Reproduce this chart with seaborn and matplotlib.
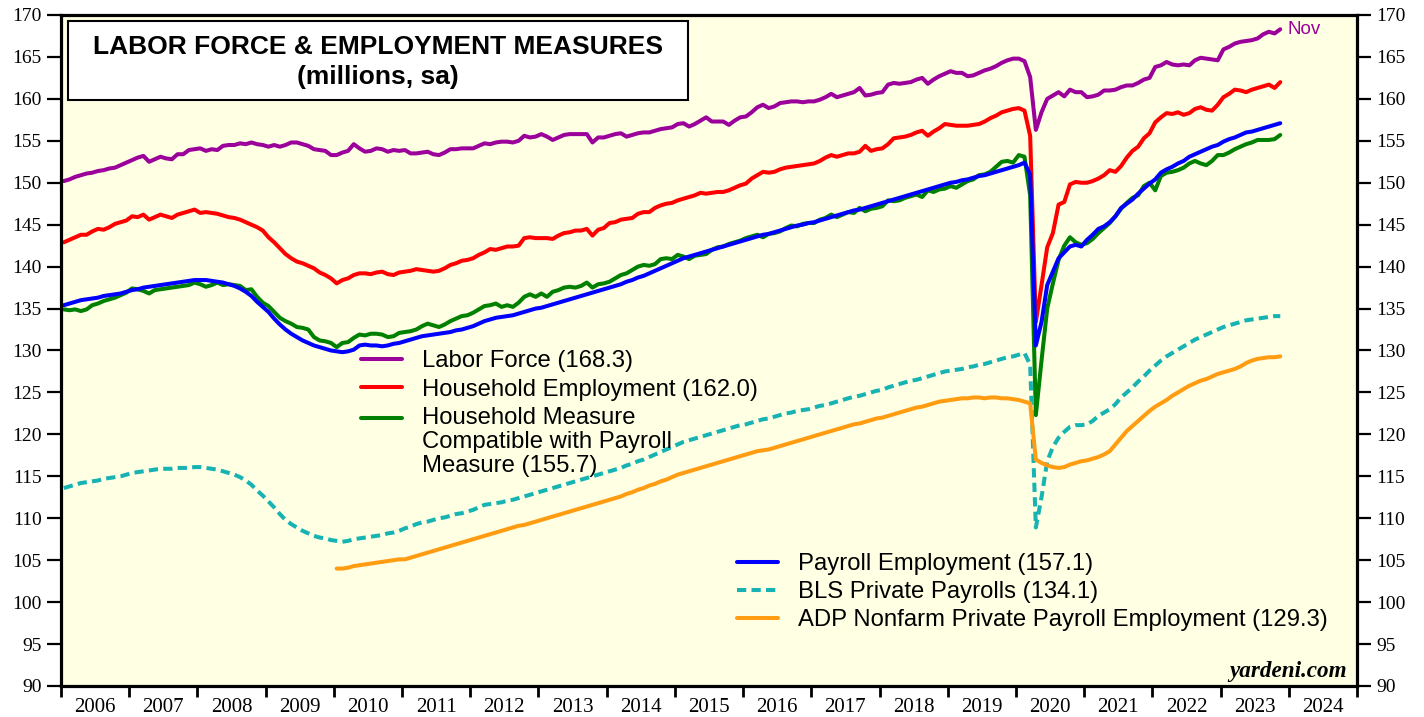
import numpy as np
import pandas as pd
import matplotlib
matplotlib.use("Agg")
import matplotlib.pyplot as plt
from matplotlib.patches import Rectangle
from matplotlib.legend_handler import HandlerLine2D
from matplotlib.lines import Line2D
import seaborn as sns

# ---------------- data (monthly, millions, sa) ----------------
START_YEAR = 2006          # household / payroll / BLS series start Jan 2006
ADP_START_YEAR = 2010      # ADP series starts Jan 2010

labor_force = [
    150.2, 150.4, 150.7, 150.9, 151.1, 151.2, 151.4, 151.5, 151.7, 151.8, 152.1, 152.4,  # 2006
    152.7, 153.0, 153.2, 152.5, 152.8, 153.1, 152.9, 152.8, 153.4, 153.4, 153.9, 154.0,  # 2007
    154.1, 153.8, 154.0, 153.9, 154.4, 154.5, 154.5, 154.7, 154.6, 154.8, 154.6, 154.5,  # 2008
    154.3, 154.5, 154.3, 154.5, 154.8, 154.8, 154.6, 154.4, 154.0, 153.9, 153.8, 153.3,  # 2009
    153.3, 153.6, 153.8, 154.6, 154.1, 153.7, 153.8, 154.1, 154.0, 153.7, 153.9, 153.8,  # 2010
    153.9, 153.5, 153.5, 153.6, 153.7, 153.4, 153.3, 153.6, 154.0, 154.0, 154.1, 154.1,  # 2011
    154.1, 154.4, 154.7, 154.6, 154.8, 154.9, 154.9, 154.8, 155.0, 155.6, 155.4, 155.5,  # 2012
    155.8, 155.5, 155.1, 155.4, 155.7, 155.8, 155.8, 155.8, 155.8, 154.8, 155.4, 155.4,  # 2013
    155.6, 155.8, 155.9, 155.5, 155.7, 155.9, 156.0, 156.0, 156.2, 156.4, 156.5, 156.6,  # 2014
    157.0, 157.1, 156.7, 157.0, 157.4, 157.8, 157.3, 157.3, 157.3, 156.9, 157.4, 157.8,  # 2015
    157.9, 158.4, 159.0, 159.3, 158.9, 159.1, 159.5, 159.6, 159.7, 159.7, 159.6, 159.7,  # 2016
    159.7, 159.9, 160.2, 160.6, 160.2, 160.4, 160.6, 160.8, 161.3, 160.4, 160.5, 160.7,  # 2017
    160.8, 161.7, 161.9, 161.8, 161.9, 162.0, 162.3, 162.5, 161.8, 162.3, 162.7, 163.0,  # 2018
    163.3, 163.1, 163.1, 162.7, 162.8, 163.1, 163.4, 163.6, 163.9, 164.3, 164.6, 164.8,  # 2019
    164.8, 164.5, 162.6, 156.3, 158.4, 160.0, 160.4, 160.8, 160.3, 161.1, 160.8, 160.8,  # 2020
    160.2, 160.3, 160.5, 161.0, 161.0, 161.1, 161.4, 161.6, 161.6, 161.9, 162.3, 162.5,  # 2021
    163.8, 164.0, 164.4, 164.1, 164.0, 164.1, 164.0, 164.6, 164.9, 164.8, 164.7, 164.6,  # 2022
    165.9, 166.2, 166.6, 166.8, 166.9, 167.0, 167.2, 167.7, 168.0, 167.8, 168.3,         # 2023
]

household_emp = [
    142.9, 143.2, 143.5, 143.8, 143.8, 144.2, 144.5, 144.4, 144.7, 145.1, 145.3, 145.5,
    146.0, 145.9, 146.2, 145.6, 145.9, 146.2, 146.0, 145.8, 146.2, 146.4, 146.6, 146.8,
    146.4, 146.5, 146.4, 146.3, 146.1, 145.9, 145.8, 145.6, 145.3, 145.0, 144.7, 144.3,
    143.5, 142.9, 142.2, 141.5, 141.0, 140.6, 140.4, 140.1, 139.8, 139.3, 139.0, 138.6,
    138.0, 138.4, 138.6, 139.0, 139.2, 139.2, 139.1, 139.3, 139.4, 139.1, 139.0, 139.3,
    139.4, 139.5, 139.7, 139.6, 139.5, 139.4, 139.5, 139.8, 140.2, 140.4, 140.7, 140.8,
    141.0, 141.4, 141.7, 142.1, 142.0, 142.2, 142.4, 142.4, 142.5, 143.4, 143.5, 143.4,
    143.4, 143.4, 143.3, 143.7, 144.0, 144.1, 144.3, 144.3, 144.5, 143.7, 144.4, 144.6,
    145.2, 145.3, 145.6, 145.7, 145.8, 146.3, 146.5, 146.5, 147.0, 147.3, 147.5, 147.6,
    147.9, 148.1, 148.3, 148.5, 148.8, 148.7, 148.8, 148.9, 148.9, 149.1, 149.4, 149.7,
    149.9, 150.5, 150.9, 151.3, 151.2, 151.3, 151.6, 151.8, 151.9, 152.0, 152.1, 152.2,
    152.3, 152.6, 153.0, 153.3, 153.1, 153.3, 153.5, 153.5, 153.7, 154.4, 153.8, 154.0,
    154.1, 154.6, 155.3, 155.4, 155.5, 155.7, 156.0, 156.2, 155.6, 156.1, 156.5, 157.0,
    156.9, 156.8, 156.8, 156.8, 156.9, 157.0, 157.3, 157.7, 158.0, 158.4, 158.6, 158.8,
    158.9, 158.6, 155.6, 133.4, 137.8, 142.3, 144.0, 147.4, 147.7, 149.8, 150.1, 150.0,
    150.0, 150.2, 150.5, 150.9, 151.5, 151.3, 152.0, 153.0, 153.8, 154.3, 155.3, 155.9,
    157.2, 157.8, 158.3, 158.2, 158.4, 158.1, 158.3, 158.8, 159.0, 158.7, 158.6, 159.3,
    160.2, 160.6, 161.1, 161.0, 160.8, 161.1, 161.3, 161.5, 161.7, 161.3, 162.0,
]

household_adj = [
    134.9, 134.8, 134.9, 134.7, 134.9, 135.4, 135.6, 135.9, 136.1, 136.3, 136.6, 136.9,
    137.4, 137.3, 137.1, 136.8, 137.2, 137.3, 137.4, 137.5, 137.6, 137.7, 137.8, 138.1,
    137.9, 137.6, 137.8, 138.1, 137.8, 137.9, 137.8, 137.7, 137.2, 137.3, 136.4, 135.7,
    135.3, 134.6, 133.9, 133.5, 133.2, 132.8, 132.7, 132.5, 131.6, 131.2, 131.1, 130.9,
    130.4, 130.9, 131.0, 131.5, 131.9, 131.8, 132.0, 132.0, 131.9, 131.6, 131.7, 132.1,
    132.2, 132.3, 132.5, 132.9, 133.2, 133.0, 132.8, 133.1, 133.5, 133.8, 134.1, 134.2,
    134.5, 134.9, 135.3, 135.4, 135.6, 135.2, 135.4, 135.2, 135.7, 136.4, 136.7, 136.4,
    136.8, 136.4, 137.0, 137.2, 137.5, 137.6, 137.5, 137.7, 138.1, 137.5, 137.9, 138.0,
    138.2, 138.6, 139.0, 139.2, 139.6, 140.0, 140.2, 140.1, 140.3, 140.9, 141.0, 140.9,
    141.4, 141.2, 140.9, 141.3, 141.4, 141.5, 142.0, 142.3, 142.4, 142.7, 142.9, 143.1,
    143.4, 143.6, 143.8, 143.5, 143.9, 144.0, 144.2, 144.6, 144.9, 144.8, 145.1, 145.2,
    145.2, 145.6, 145.8, 146.2, 145.9, 146.2, 146.5, 146.4, 147.0, 146.6, 146.9, 147.0,
    147.2, 147.9, 147.8, 147.9, 148.2, 148.4, 148.6, 148.3, 149.1, 148.9, 149.2, 149.3,
    149.6, 149.4, 149.8, 150.2, 150.4, 150.9, 151.0, 151.3, 151.9, 152.5, 152.6, 152.4,
    153.3, 153.1, 148.5, 122.3, 128.8, 135.0, 138.0, 140.8, 142.5, 143.5, 142.9, 142.6,
    142.8, 143.3, 144.0, 144.6, 145.2, 146.0, 146.9, 147.6, 148.2, 148.5, 149.6, 150.0,
    149.1, 150.8, 151.2, 151.3, 151.5, 151.8, 152.3, 152.6, 152.3, 152.1, 152.6, 153.3,
    153.3, 153.6, 154.0, 154.3, 154.6, 154.8, 155.1, 155.1, 155.1, 155.2, 155.7,
]

payroll_emp = [
    135.4, 135.6, 135.8, 136.0, 136.1, 136.2, 136.3, 136.5, 136.6, 136.7, 136.8, 137.0,
    137.2, 137.3, 137.5, 137.6, 137.7, 137.8, 137.9, 138.0, 138.1, 138.2, 138.3, 138.4,
    138.4, 138.4, 138.3, 138.2, 138.1, 137.9, 137.7, 137.4, 137.0, 136.5, 135.8, 135.2,
    134.6, 133.8, 133.1, 132.5, 132.0, 131.6, 131.2, 130.9, 130.6, 130.4, 130.2, 130.0,
    129.9, 129.8, 129.9, 130.1, 130.6, 130.7, 130.6, 130.6, 130.5, 130.6, 130.8, 130.9,
    131.1, 131.3, 131.5, 131.7, 131.8, 131.9, 132.0, 132.1, 132.2, 132.4, 132.5, 132.7,
    132.9, 133.2, 133.5, 133.7, 133.9, 134.0, 134.1, 134.2, 134.4, 134.6, 134.8, 135.0,
    135.1, 135.3, 135.5, 135.7, 135.9, 136.1, 136.3, 136.5, 136.7, 136.9, 137.1, 137.3,
    137.5, 137.7, 137.9, 138.2, 138.4, 138.7, 138.9, 139.2, 139.5, 139.8, 140.1, 140.4,
    140.7, 141.0, 141.2, 141.4, 141.6, 141.8, 142.0, 142.2, 142.4, 142.6, 142.8, 143.0,
    143.2, 143.4, 143.6, 143.8, 143.9, 144.1, 144.3, 144.5, 144.7, 144.9, 145.0, 145.2,
    145.3, 145.5, 145.7, 145.9, 146.1, 146.3, 146.5, 146.7, 146.8, 147.0, 147.2, 147.4,
    147.6, 147.8, 148.0, 148.2, 148.4, 148.6, 148.8, 149.0, 149.2, 149.4, 149.6, 149.8,
    150.0, 150.1, 150.3, 150.4, 150.6, 150.8, 150.9, 151.1, 151.3, 151.5, 151.7, 151.9,
    152.1, 152.4, 151.0, 130.6, 133.4, 137.8, 139.4, 141.0, 141.7, 142.4, 142.6, 142.4,
    143.2, 143.8, 144.5, 144.8, 145.3, 146.0, 147.0, 147.5, 148.0, 148.7, 149.3, 149.9,
    150.4, 151.2, 151.6, 151.9, 152.3, 152.6, 153.1, 153.4, 153.7, 154.0, 154.3, 154.5,
    154.9, 155.2, 155.4, 155.7, 156.0, 156.1, 156.3, 156.5, 156.7, 156.9, 157.1,
]

bls_private = [
    113.6, 113.8, 114.0, 114.2, 114.3, 114.4, 114.5, 114.7, 114.8, 114.9, 115.0, 115.2,
    115.4, 115.5, 115.6, 115.7, 115.8, 115.9, 115.9, 115.9, 116.0, 116.0, 116.0, 116.1,
    116.1, 116.0, 115.9, 115.8, 115.6, 115.4, 115.2, 114.9, 114.5, 114.0, 113.3, 112.7,
    112.0, 111.3, 110.5, 109.8, 109.3, 108.9, 108.5, 108.2, 107.9, 107.7, 107.6, 107.4,
    107.3, 107.2, 107.3, 107.5, 107.6, 107.7, 107.8, 107.9, 108.0, 108.2, 108.3, 108.5,
    108.8, 109.0, 109.3, 109.5, 109.6, 109.8, 110.0, 110.1, 110.3, 110.5, 110.6, 110.8,
    111.0, 111.3, 111.6, 111.7, 111.8, 111.9, 112.1, 112.2, 112.4, 112.6, 112.8, 113.0,
    113.2, 113.4, 113.6, 113.8, 114.0, 114.2, 114.4, 114.6, 114.8, 115.0, 115.2, 115.4,
    115.6, 115.8, 116.0, 116.3, 116.5, 116.8, 117.0, 117.3, 117.6, 117.9, 118.2, 118.5,
    118.8, 119.1, 119.3, 119.5, 119.7, 119.9, 120.1, 120.3, 120.5, 120.7, 120.9, 121.1,
    121.2, 121.4, 121.6, 121.8, 121.9, 122.1, 122.3, 122.5, 122.6, 122.8, 122.9, 123.0,
    123.2, 123.4, 123.5, 123.7, 123.9, 124.1, 124.3, 124.5, 124.6, 124.8, 125.0, 125.2,
    125.3, 125.6, 125.8, 126.0, 126.2, 126.4, 126.5, 126.7, 126.9, 127.1, 127.3, 127.5,
    127.6, 127.7, 127.8, 128.0, 128.1, 128.3, 128.4, 128.6, 128.8, 129.0, 129.2, 129.3,
    129.5, 129.7, 128.3, 108.9, 112.5, 116.8, 118.5, 119.6, 120.3, 120.9, 121.1, 121.1,
    121.2, 121.6, 122.2, 122.6, 123.0, 123.6, 124.4, 125.0, 125.6, 126.3, 126.9, 127.6,
    128.2, 128.8, 129.3, 129.7, 130.1, 130.5, 130.9, 131.3, 131.6, 131.9, 132.2, 132.5,
    132.8, 133.0, 133.2, 133.4, 133.6, 133.7, 133.8, 133.9, 134.0, 134.1, 134.1,
]

adp_private = [
    104.0, 104.0, 104.1, 104.3, 104.4, 104.5, 104.6, 104.7, 104.8, 104.9, 105.0, 105.1,  # 2010
    105.1, 105.3, 105.5, 105.7, 105.9, 106.1, 106.3, 106.5, 106.7, 106.9, 107.1, 107.3,
    107.5, 107.7, 107.9, 108.1, 108.3, 108.5, 108.7, 108.9, 109.1, 109.2, 109.4, 109.6,
    109.8, 110.0, 110.2, 110.4, 110.6, 110.8, 111.0, 111.2, 111.4, 111.6, 111.8, 112.0,
    112.2, 112.4, 112.6, 112.9, 113.1, 113.4, 113.6, 113.9, 114.1, 114.4, 114.6, 114.9,
    115.2, 115.4, 115.6, 115.8, 116.0, 116.2, 116.4, 116.6, 116.8, 117.0, 117.2, 117.4,
    117.6, 117.8, 118.0, 118.1, 118.2, 118.4, 118.6, 118.8, 119.0, 119.2, 119.4, 119.6,
    119.8, 120.0, 120.2, 120.4, 120.6, 120.8, 121.0, 121.2, 121.3, 121.5, 121.7, 121.9,
    122.0, 122.2, 122.4, 122.6, 122.8, 123.0, 123.2, 123.3, 123.5, 123.7, 123.9, 124.0,
    124.1, 124.2, 124.3, 124.3, 124.4, 124.4, 124.3, 124.4, 124.4, 124.3, 124.3, 124.2,
    124.1, 123.9, 123.7, 117.0, 116.6, 116.3, 116.1, 116.0, 116.1, 116.4, 116.6, 116.8,
    116.9, 117.1, 117.3, 117.6, 118.0, 118.8, 119.6, 120.4, 121.0, 121.6, 122.2, 122.8,
    123.3, 123.7, 124.1, 124.6, 125.0, 125.4, 125.8, 126.1, 126.4, 126.6, 126.9, 127.2,
    127.4, 127.6, 127.8, 128.1, 128.5, 128.8, 129.0, 129.1, 129.2, 129.2, 129.3,        # 2023
]

year_labels = [str(y) for y in range(2006, 2025)]
y_ticks = list(range(90, 171, 5))

legend1_labels = ["Labor Force (168.3)", "Household Employment (162.0)",
                  "Household Measure\nCompatible with Payroll\nMeasure (155.7)"]
legend2_labels = ["Payroll Employment (157.1)", "BLS Private Payrolls (134.1)",
                  "ADP Nonfarm Private Payroll Employment (129.3)"]


def month_axis(start_year, n):
    # decimal-year position of each monthly observation (mid-month)
    return np.array([start_year + (i + 0.5) / 12.0 for i in range(n)])


series = [
    ("lf", labor_force, START_YEAR, "#9B009B", "-"),
    ("he", household_emp, START_YEAR, "#FF0000", "-"),
    ("ha", household_adj, START_YEAR, "#008000", "-"),
    ("pe", payroll_emp, START_YEAR, "#0000FF", "-"),
    ("bls", bls_private, START_YEAR, "#17B3B3", "--"),
    ("adp", adp_private, ADP_START_YEAR, "#FF9C12", "-"),
]

frames = []
for key, vals, sy, col, ls in series:
    frames.append(pd.DataFrame({"date": month_axis(sy, len(vals)),
                                "value": vals, "series": key}))
df = pd.concat(frames, ignore_index=True)


class TopLineHandler(HandlerLine2D):
    """Legend handle aligned with the first line of a multi-line label."""
    def __init__(self, shift_pts, **kw):
        super().__init__(**kw)
        self.shift_pts = shift_pts

    def create_artists(self, *args, **kwargs):
        artists = super().create_artists(*args, **kwargs)
        for a in artists:
            if isinstance(a, Line2D):
                a.set_ydata(np.asarray(a.get_ydata()) + self.shift_pts)
        return artists


# ---------------- figure ----------------
sns.set_theme(style="white")
plt.rcParams["font.family"] = ["Liberation Sans", "DejaVu Sans"]
plt.rcParams["text.color"] = "black"
plt.rcParams["axes.labelcolor"] = "black"
plt.rcParams["xtick.color"] = "black"
plt.rcParams["ytick.color"] = "black"

W, H = 1424, 717
fig = plt.figure(figsize=(W / 100, H / 100), dpi=100)
fig.patch.set_facecolor("white")
ax = fig.add_axes([61 / W, 31 / H, 1296 / W, 671 / H])
ax.set_facecolor("#FFFFE4")

lw = 2.9
handles = {}
for key, vals, sy, col, ls in series:
    sub = df[df["series"] == key]
    sns.lineplot(data=sub, x="date", y="value", ax=ax, color=col,
                 linewidth=lw, legend=False, sort=False)
    line = ax.get_lines()[-1]
    line.set_solid_joinstyle("round")
    if ls == "--":
        line.set_dashes([2.3, 1.3])
    handles[key] = line

ax.set_xlim(2006, 2025)
ax.set_ylim(90, 170)
ax.set_xlabel("")
ax.set_ylabel("")
ax.grid(False)

# spines
for s in ax.spines.values():
    s.set_visible(True)
    s.set_color("black")
    s.set_linewidth(2.3)

# y ticks both sides
ax.set_yticks(y_ticks)
ax.set_yticklabels([str(v) for v in y_ticks])
ax.tick_params(axis="y", which="major", left=True, right=True,
               labelleft=True, labelright=True, direction="out",
               length=10, width=1.6, pad=4, labelsize=14, colors="black")
for t in ax.get_yticklabels():
    t.set_fontfamily("Liberation Serif")

# x ticks: tick marks at year boundaries, labels centred in each year
ax.set_xticks(list(range(2006, 2026)))
ax.set_xticklabels([])
ax.set_xticks([y + 0.5 for y in range(2006, 2025)], minor=True)
ax.set_xticklabels(year_labels, minor=True)
ax.tick_params(axis="x", which="major", bottom=True, direction="out",
               length=8, width=2.0, colors="black")
ax.tick_params(axis="x", which="minor", bottom=True, length=0, pad=8.5,
               labelsize=15, labelcolor="black")
for t in ax.get_xticklabels(minor=True):
    t.set_fontfamily("Liberation Serif")

# title box
ax.add_patch(Rectangle((0.0054, 0.8733), 0.4784, 0.1177, transform=ax.transAxes,
                       facecolor="white", edgecolor="black", linewidth=1.5,
                       zorder=5))
ax.text(0.2446, 0.9523, "LABOR FORCE & EMPLOYMENT MEASURES", transform=ax.transAxes,
        ha="center", va="center", fontsize=19, fontweight="bold", zorder=6,
        color="black")
ax.text(0.2446, 0.9076, "(millions, sa)", transform=ax.transAxes,
        ha="center", va="center", fontsize=19, fontweight="bold", zorder=6,
        color="black")

# legends
leg_kw = dict(frameon=False, loc="upper left", borderpad=0, borderaxespad=0,
              handlelength=1.7, handletextpad=0.85,
              prop={"family": "Liberation Sans", "size": 17.2},
              labelcolor="black")
leg1 = ax.legend([handles["lf"], handles["he"], handles["ha"]], legend1_labels,
                 bbox_to_anchor=(0.2315, 0.5003), labelspacing=0.27,
                 handler_map={handles["ha"]: TopLineHandler(17.8)}, **leg_kw)
for t in leg1.get_texts():
    t.set_linespacing(1.12)
ax.add_artist(leg1)
leg2 = ax.legend([handles["pe"], handles["bls"], handles["adp"]], legend2_labels,
                 bbox_to_anchor=(0.5216, 0.1978), labelspacing=0.25, **leg_kw)

# "Nov" label at the last labor force point
lf_dates = month_axis(START_YEAR, len(labor_force))
ax.annotate("Nov", xy=(lf_dates[-1], labor_force[-1]), xytext=(5, 0),
            textcoords="offset points", ha="left", va="center",
            color="#9B009B", fontsize=13.5)

ax.text(0.992, 0.006, "yardeni.com", transform=ax.transAxes, ha="right",
        va="bottom", fontsize=16.7, fontweight="bold", fontstyle="italic",
        family="Liberation Serif", color="black")

fig.savefig("out.png", dpi=100, facecolor="white")
